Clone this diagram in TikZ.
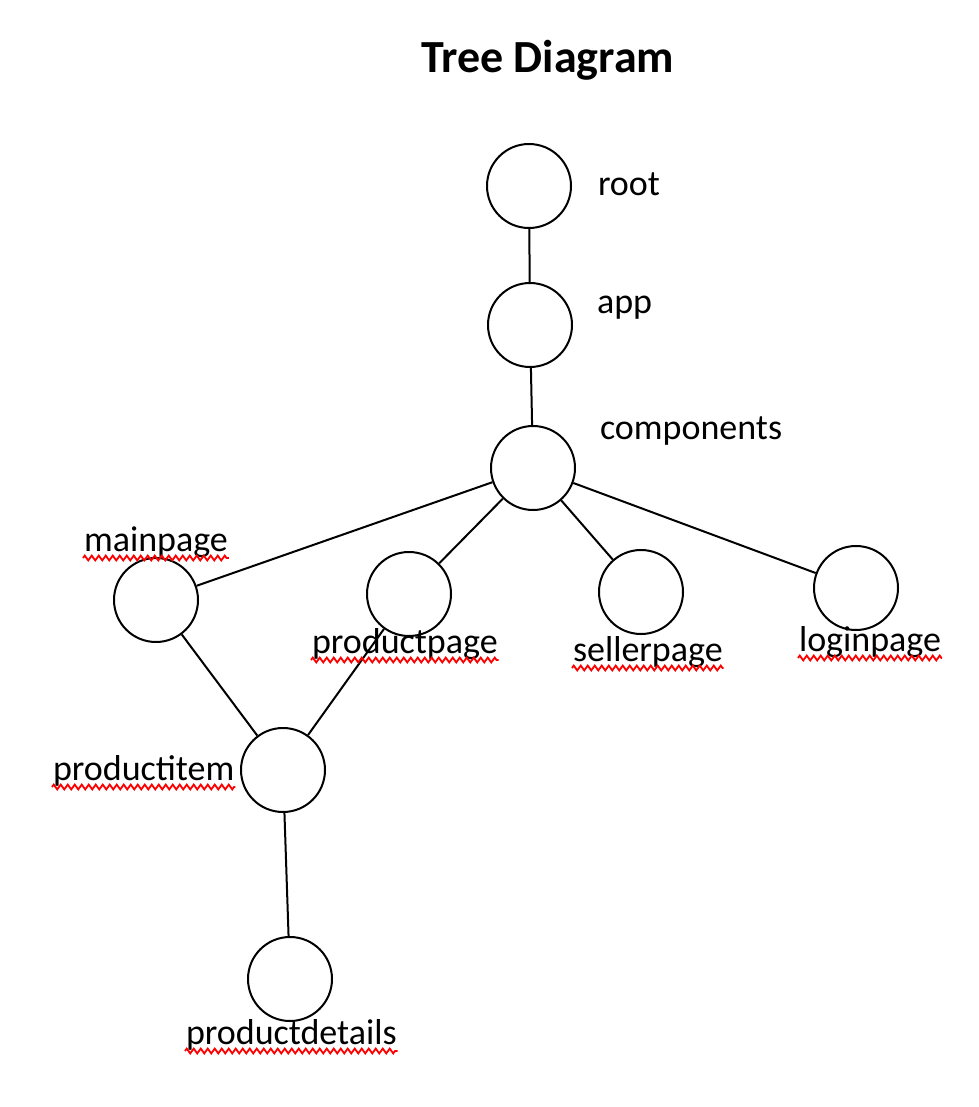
\documentclass[tikz,border=0pt]{standalone}
\usepackage{fontspec}
\setmainfont{Carlito}
\usepackage{tikz}
\usetikzlibrary{positioning}
\usetikzlibrary{decorations.pathmorphing}

\begin{document}
\begin{tikzpicture}[
    x=1pt, y=-1pt,
    line width=2pt,
    treeNode/.style={circle,
    draw=black,
    minimum size=84pt,
    inner sep=0pt},
    treeLabel/.style={anchor=base west,
    inner sep=0pt,
    font=\fontsize{36}{43}\selectfont},
    spellMark/.style={draw=red,
    line width=1.8pt,
    decorate,
    decoration={zigzag, amplitude=2.4pt, segment length=7pt}}
    ]
    \useasboundingbox (0,0) rectangle (978,1107);
    \node[anchor=base west, inner sep=0pt, font=\fontsize{46}{55}\selectfont\bfseries] (title) at (420,73) {Tree Diagram};
    % circles
    \node[treeNode] (root) at (529,186) {};
    \node[treeNode] (app) at (530,325) {};
    \node[treeNode] (comp) at (533,468) {};
    \node[treeNode] (mainpage) at (156,600) {};
    \node[treeNode] (prodpage) at (409,594) {};
    \node[treeNode] (seller) at (641,592) {};
    \node[treeNode] (login) at (856,588) {};
    \node[treeNode] (proditem) at (283,770) {};
    \node[treeNode] (proddetails) at (290,979) {};
    % edges
    \draw (root) -- (app);
    \draw (app) -- (comp);
    \draw (comp) -- (mainpage);
    \draw (comp) -- (prodpage);
    \draw (comp) -- (seller);
    \draw (comp) -- (login);
    \draw (mainpage) -- (proditem);
    \draw (prodpage) -- (proditem);
    \draw (proditem) -- (proddetails);
    % labels
    \node[treeLabel] (rootLbl) at (597,196) {root};
    \node[treeLabel] (appLbl) at (596,313) {app};
    \node[treeLabel] (compLbl) at (599,439) {components};
    \node[treeLabel] (mainpageLbl) at (83,551) {mainpage};
    \node[treeLabel] (prodpageLbl) at (311,653) {productpage};
    \node[treeLabel] (sellerLbl) at (572,661) {sellerpage};
    \node[treeLabel] (loginLbl) at (798,651) {loginpage};
    \node[treeLabel] (proditemLbl) at (52,780) {productitem};
    \node[treeLabel] (proddetailsLbl) at (185,1044) {productdetails};
    % red underlines
    \foreach \lbl in {mainpageLbl, prodpageLbl, sellerLbl, loginLbl, proditemLbl, proddetailsLbl}
      \draw[spellMark] ([yshift=-7pt]\lbl.base west) -- ([yshift=-7pt]\lbl.base east);
  \end{tikzpicture}
\end{document}
